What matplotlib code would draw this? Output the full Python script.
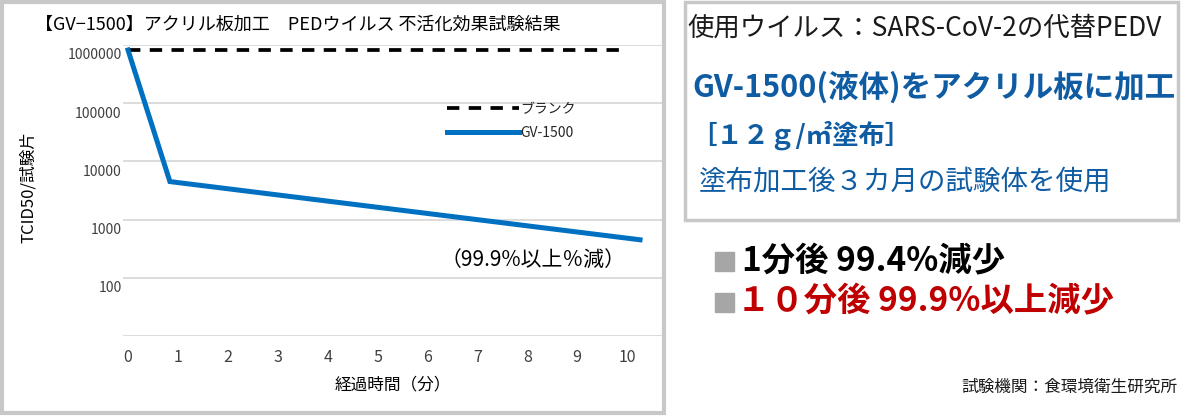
#!/usr/bin/env python3
"""GV-1500 アクリル板加工 PEDウイルス不活化試験のグラフを out.png に描く。"""

import matplotlib

matplotlib.use("Agg")
import matplotlib.pyplot as plt
import matplotlib.transforms as mtransforms
from matplotlib.patches import Rectangle

# データ
blank_minutes = [0, 10]
blank_titer = [8.2e5, 8.2e5]
gv_minutes = [0, 0.84, 10.26]
gv_titer = [8.2e5, 4.5e3, 4.5e2]

x_ticks = list(range(11))
y_ticks = [10, 100, 1000, 10000, 100000, 1000000]
y_tick_labels = ["", "100", "1000", "10000", "100000", "1000000"]

W, H = 1181, 416


def fx(px: float) -> float:
    return px / W


def fy(py: float) -> float:
    return 1 - py / H


plt.rcParams["font.family"] = ["Noto Sans CJK JP", "DejaVu Sans"]

fig = plt.figure(figsize=(W / 100, H / 100), dpi=100)

# 左パネル：グラフ
ax = fig.add_axes([fx(123), fy(336), fx(662) - fx(123), fy(45) - fy(336)])
ax.set_yscale("log")
ax.plot(blank_minutes, blank_titer, color="black", linewidth=2.7,
        dashes=(3.3, 2.5), solid_capstyle="butt", label="ブランク")
ax.plot(gv_minutes, gv_titer, color="#0070c0", linewidth=3.6,
        solid_joinstyle="miter", label="GV-1500")
ax.set_xlim(-0.1, 10.7)
ax.set_ylim(10, 1e6)
ax.set_xticks(x_ticks, [str(t) for t in x_ticks])
ax.set_yticks(y_ticks, y_tick_labels)
ax.yaxis.set_minor_locator(matplotlib.ticker.NullLocator())
ax.tick_params(axis="both", length=0)
ax.tick_params(axis="y", pad=1, labelsize=10, labelcolor="#404040")
ax.tick_params(axis="x", pad=9, labelsize=11.5, labelcolor="#404040")
ax.grid(axis="y", color="#d9d9d9", linewidth=1.3)
ax.set_axisbelow(True)
for s in ax.spines.values():
    s.set_visible(False)

# Excel 風に目盛ラベルを少し下へずらす
shift = mtransforms.ScaledTranslation(0, -0.09, fig.dpi_scale_trans)
for lbl in ax.get_yticklabels():
    lbl.set_transform(lbl.get_transform() + shift)

ax.legend(loc="center left", bbox_to_anchor=(fx(440), fy(121)),
          bbox_transform=fig.transFigure, frameon=False, fontsize=10,
          handlelength=5.2, handletextpad=0.1, labelspacing=0.75,
          borderpad=0, labelcolor="#262626")

fig.text(fx(35), fy(25), "【GV−1500】アクリル板加工　PEDウイルス 不活化効果試験結果",
         fontsize=13, va="center", ha="left", color="black")
fig.text(fx(29), fy(187), "TCID50/試験片", fontsize=12, rotation=90,
         va="center", ha="center", color="black")
fig.text(fx(393), fy(385), "経過時間（分）", fontsize=12,
         va="center", ha="center", color="black")
fig.text(fx(533), fy(260), "（99.9%以上％減）", fontsize=15,
         va="center", ha="center", color="black")

# パネル枠
fig.patches.append(Rectangle((fx(2), fy(413)), fx(662), fy(2) - fy(413),
                             transform=fig.transFigure, fill=False,
                             edgecolor="#c8c8c8", linewidth=3))
fig.patches.append(Rectangle((fx(685), fy(220)), fx(1178) - fx(685), fy(2) - fy(220),
                             transform=fig.transFigure, fill=False,
                             edgecolor="#c8c8c8", linewidth=2.5))

# 右パネル：説明文
blue = "#0f5ca3"
fig.text(fx(687), fy(28), "使用ウイルス：SARS-CoV-2の代替PEDV", fontsize=19,
         va="center", ha="left", color="#1a1a1a")
fig.text(fx(692), fy(87), "GV-1500(液体)をアクリル板に加工", fontsize=22,
         fontweight="bold", va="center", ha="left", color=blue)
fig.text(fx(690), fy(135), "［１２ｇ/㎡塗布］", fontsize=19,
         fontweight="bold", va="center", ha="left", color=blue)
fig.text(fx(699), fy(182), "塗布加工後３カ月の試験体を使用", fontsize=19.8,
         va="center", ha="left", color=blue)

for top in (252, 293):
    fig.patches.append(Rectangle((fx(715), fy(top + 19)), fx(19), fy(top) - fy(top + 19),
                                 transform=fig.transFigure, color="#a6a6a6"))
fig.text(fx(742), fy(262), "1分後 99.4%減少", fontsize=24,
         fontweight="bold", va="center", ha="left", color="black")
fig.text(fx(737), fy(302), "１０分後 99.9%以上減少", fontsize=24,
         fontweight="bold", va="center", ha="left", color="#c00000")
fig.text(fx(1177), fy(387), "試験機関：食環境衛生研究所", fontsize=12,
         va="center", ha="right", color="#1a1a1a")

fig.savefig("out.png", dpi=100)
plt.close(fig)
